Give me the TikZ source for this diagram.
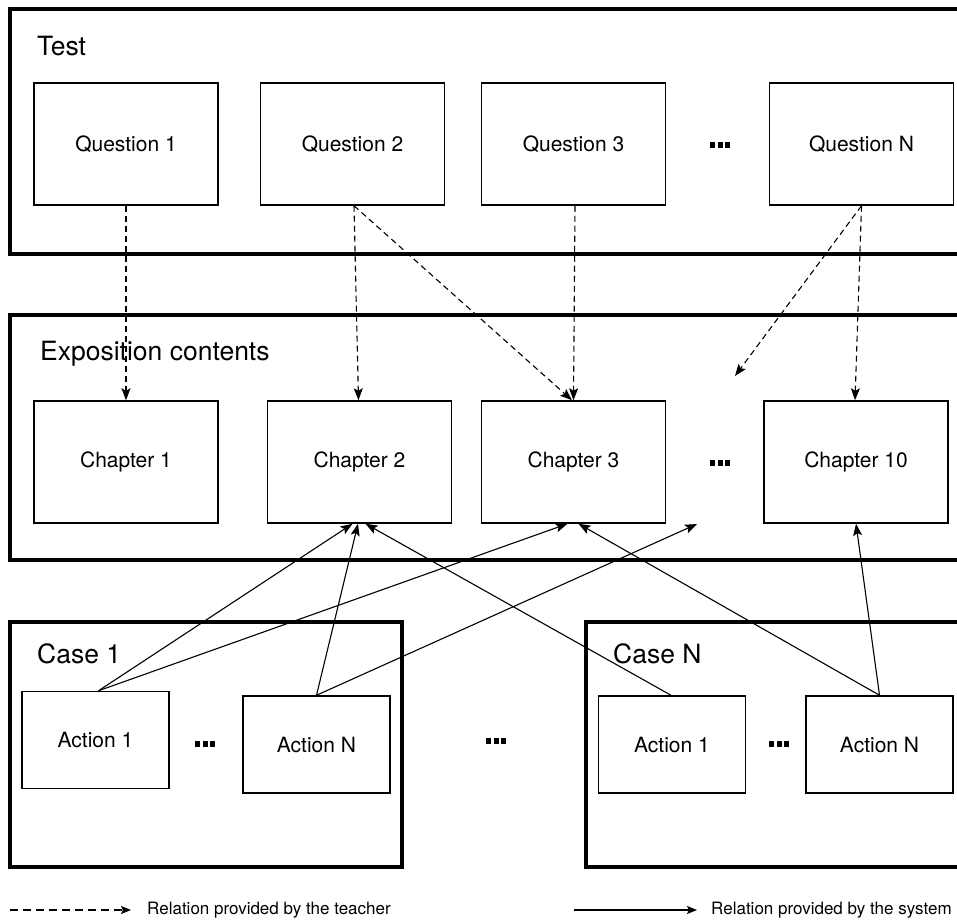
\documentclass[tikz,border=0pt]{standalone}
\usepackage{fontspec}
\setmainfont{TeX Gyre Heros}
\usetikzlibrary{arrows.meta}

% three small squares standing for "and so on"
\newcommand{\moredots}{\rule{5pt}{5.5pt}\hspace{2.5pt}\rule{5pt}{5.5pt}\hspace{2.5pt}\rule{5pt}{5.5pt}}

\tikzset{
  group/.style={draw, line width=4pt, inner sep=0pt, minimum height=245pt},
  item/.style={draw, line width=1.5pt, inner sep=0pt, fill=white,
    minimum width=184pt, minimum height=122pt,
    font=\fontsize{21}{24}\selectfont},
  act/.style={item, minimum width=147pt, minimum height=97pt},
  title/.style={anchor=west, inner sep=0pt, font=\fontsize{26.5}{30}\selectfont},
  more/.style={inner sep=0pt},
  legendtext/.style={anchor=west, inner sep=0pt, font=\fontsize{17}{20}\selectfont},
  tip/.style={-{Stealth[length=12pt, width=9pt, inset=2.5pt]}},
  teacher/.style={tip, line width=1.1pt, dash pattern=on 6pt off 4pt},
  system/.style={tip, line width=1.1pt},
  keytip/.style={-{Stealth[length=10pt, width=8pt, inset=2pt]}},
}

\begin{document}
\begin{tikzpicture}[x=1pt, y=-1pt]
  \clip (0,0) rectangle (957,920);
  \fill[white] (0,0) rectangle (957,920);

  % --- containers
  \node[group, minimum width=970pt] (test) at (495,131.5) {};
  \node[group, minimum width=970pt] (expo) at (495,437.5) {};
  \node[group, minimum width=392pt] (case1) at (206,744.5) {};
  \node[group, minimum width=394pt] (caseN) at (783,744.5) {};

  \node[title] (ttest)  at (37,46)  {Test};
  \node[title] (texpo)  at (40,354) {Exposition contents};
  \node[title] (tcase1) at (37,654) {Case 1};
  \node[title] (tcaseN) at (613,654) {Case N};

  % --- questions
  \node[item] (q1) at (126,144)   {Question 1};
  \node[item] (q2) at (352.5,144) {Question 2};
  \node[item] (q3) at (573.5,144) {Question 3};
  \node[item] (qN) at (861.5,144) {Question N};
  \node[more] (qdots) at (720,145) {\moredots};

  % --- chapters
  \node[item] (c1)  at (126,462)   {Chapter 1};
  \node[item] (c2)  at (359.5,462) {Chapter 2};
  \node[item] (c3)  at (573.5,462) {Chapter 3};
  \node[item] (c10) at (856,462)   {Chapter 10};
  \node[more] (cdots) at (720,463) {\moredots};

  % --- actions
  \node[act] (a11) at (95.5,740)   {Action 1};
  \node[act] (a1N) at (316.5,744.5) {Action N};
  \node[act] (aN1) at (672,744.5)  {Action 1};
  \node[act] (aNN) at (879.5,744.5) {Action N};
  \node[more] (adots1) at (205,744) {\moredots};
  \node[more] (adots)  at (496,741) {\moredots};
  \node[more] (adotsN) at (779,744) {\moredots};

  % free ends
  \coordinate (qfree) at (735,376);
  \coordinate (afree) at (697,524);

  % --- relations provided by the teacher
  \draw[teacher] (q1.south) -- (c1.north);
  \draw[teacher] ([xshift=1.5pt]q2.south) -- ([xshift=-1pt]c2.north);
  \draw[teacher] ([xshift=1.5pt]q2.south) -- ([xshift=-1.5pt]c3.north);
  \draw[teacher] ([xshift=1.5pt]q3.south) -- (c3.north);
  \draw[teacher] (qN.south) -- (qfree);
  \draw[teacher] (qN.south) -- ([xshift=-1pt]c10.north);

  % --- relations provided by the system
  \draw[system] ([xshift=3pt]a11.north) -- ([xshift=-7pt]c2.south);
  \draw[system] ([xshift=3pt]a11.north) -- ([xshift=-6pt]c3.south);
  \draw[system] (a1N.north) -- ([xshift=-1.5pt]c2.south);
  \draw[system] (a1N.north) -- (afree);
  \draw[system] ([xshift=-1pt]aN1.north) -- ([xshift=6pt]c2.south);
  \draw[system] (aNN.north) -- ([xshift=5pt]c3.south);
  \draw[system] (aNN.north) -- (c10.south);

  % --- legend
  \coordinate (lt0) at (10,910);
  \coordinate (lt1) at (131,910);
  \coordinate (ls0) at (574,910);
  \coordinate (ls1) at (697,910);
  \draw[keytip, line width=1.2pt, dash pattern=on 8pt off 5pt] (lt0) -- (lt1);
  \node[legendtext] (lteacher) at (147,910) {Relation provided by the teacher};
  \draw[keytip, line width=1.2pt] (ls0) -- (ls1);
  \node[legendtext] (lsystem) at (711,910) {Relation provided by the system};
\end{tikzpicture}
\end{document}
